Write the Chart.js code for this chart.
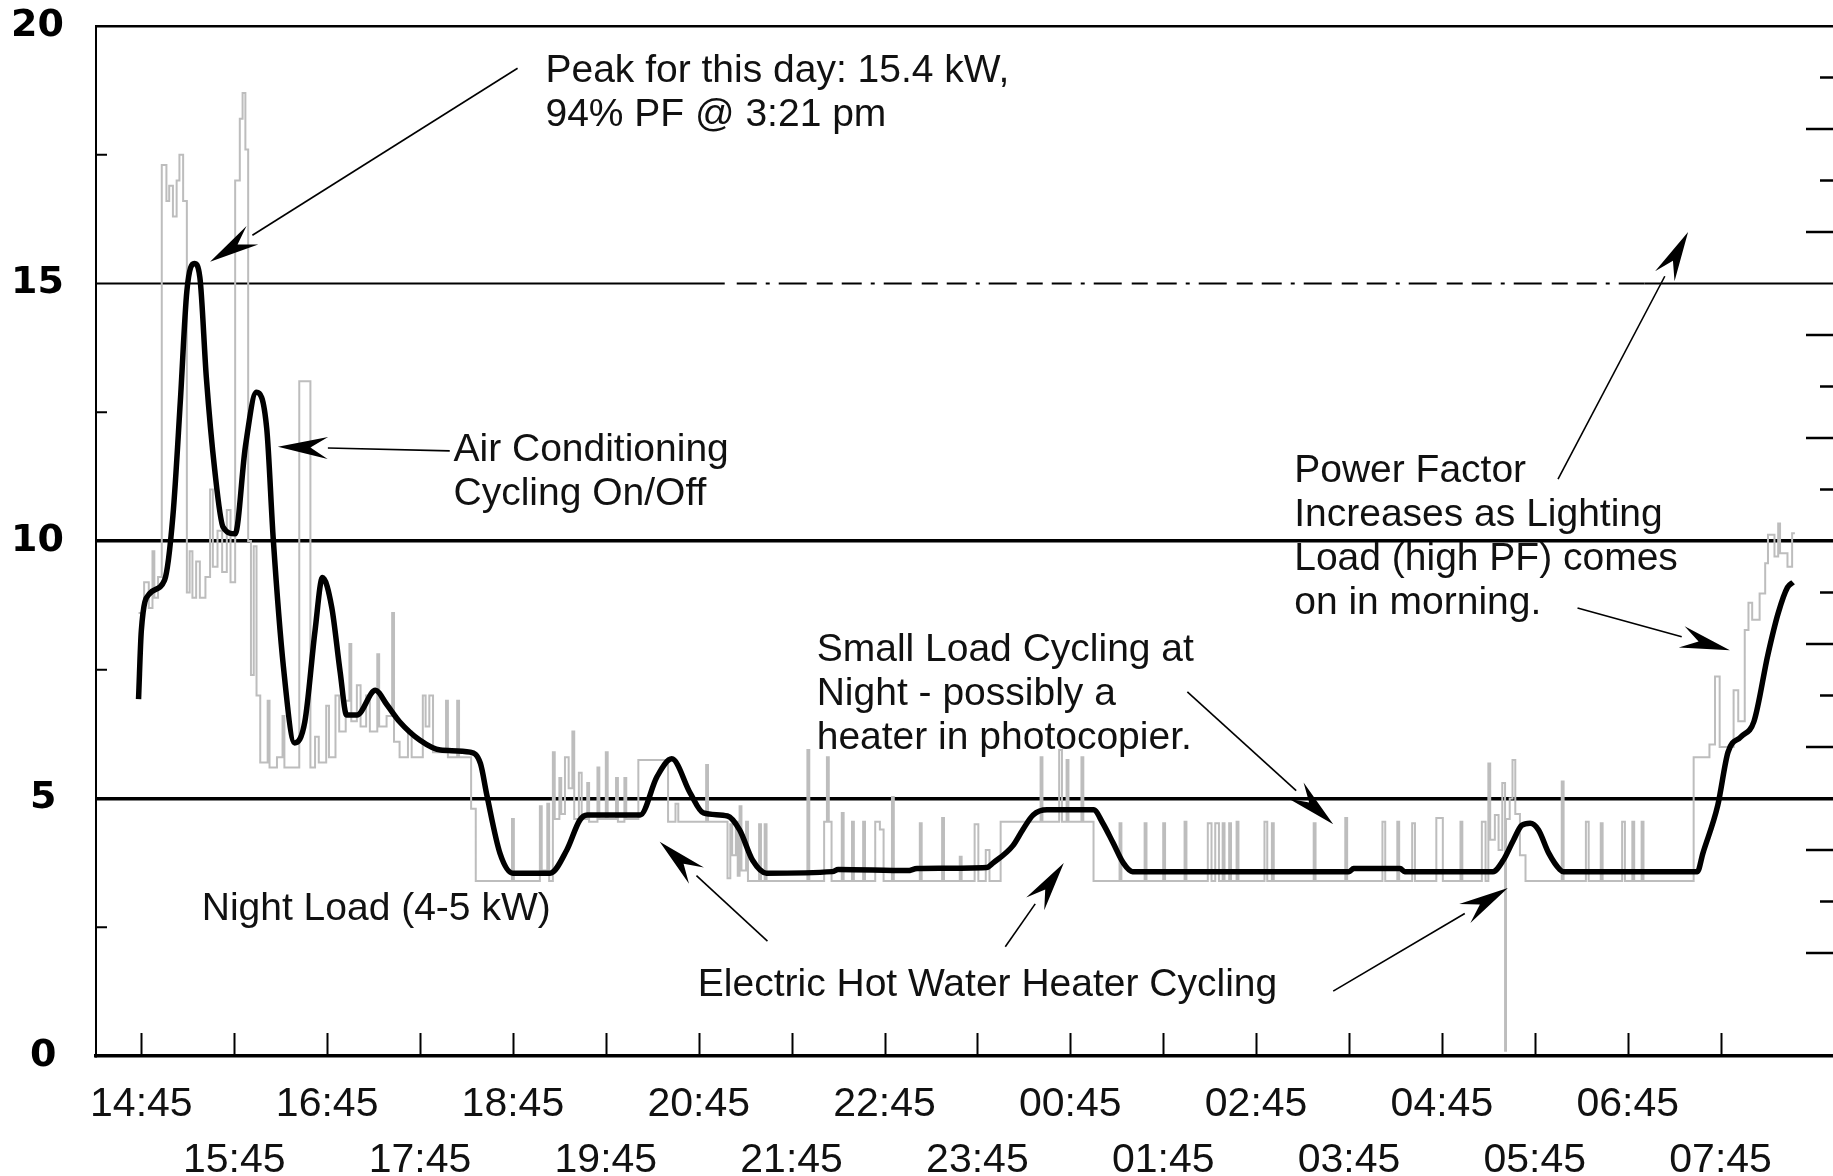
<!DOCTYPE html>
<html>
<head>
<meta charset="utf-8">
<script src="https://cdn.jsdelivr.net/npm/chart.js@4.4.0/dist/chart.umd.min.js"></script>
<style>
  html, body { margin: 0; padding: 0; background: #fff; }
  #wrap { width: 1833px; height: 1176px; }
</style>
</head>
<body>
<div id="wrap"><canvas id="myChart" width="1833" height="1176"></canvas></div>
<script>
// x values are clock hours counted from the first afternoon (24+ = next morning)
const tickHours = [14.75, 15.75, 16.75, 17.75, 18.75, 19.75, 20.75, 21.75, 22.75,
  23.75, 24.75, 25.75, 26.75, 27.75, 28.75, 29.75, 30.75, 31.75];
const tickLabels = ["14:45", "15:45", "16:45", "17:45", "18:45", "19:45", "20:45", "21:45", "22:45",
  "23:45", "00:45", "01:45", "02:45", "03:45", "04:45", "05:45", "06:45", "07:45"];

// raw 1-minute kW readings (grey, stepped)
const rawT = [14.72, 14.78, 14.83, 14.87, 14.89, 14.93, 14.97, 15.02, 15.05, 15.09, 15.13, 15.16, 15.20,
  15.24, 15.27, 15.30, 15.34, 15.38, 15.44, 15.49, 15.52, 15.57, 15.62, 15.67, 15.71, 15.76, 15.81, 15.84,
  15.87, 15.90, 15.93, 15.96, 15.99, 16.03, 16.11, 16.13, 16.21, 16.27, 16.29, 16.45, 16.57, 16.62, 16.66,
  16.74, 16.77, 16.84, 16.88, 16.95, 16.99, 17.01, 17.07, 17.11, 17.17, 17.21, 17.29, 17.31, 17.39, 17.45,
  17.47, 17.53, 17.62, 17.66, 17.78, 17.81, 17.85, 17.89, 18.03, 18.05, 18.15, 18.17, 18.30, 18.35, 18.74,
  18.76, 19.04, 19.06, 19.12, 19.14, 19.18, 19.20, 19.25, 19.27, 19.31, 19.35, 19.39, 19.41, 19.46, 19.49,
  19.55, 19.57, 19.66, 19.68, 19.75, 19.77, 19.86, 19.88, 19.95, 19.97, 20.10, 20.42, 20.50, 20.53, 20.83,
  20.85, 21.06, 21.09, 21.11, 21.15, 21.17, 21.19, 21.21, 21.26, 21.28, 21.40, 21.42, 21.46, 21.48, 21.92,
  21.94, 22.10, 22.13, 22.15, 22.18, 22.29, 22.31, 22.40, 22.42, 22.52, 22.54, 22.65, 22.70, 22.74, 22.83,
  22.85, 23.13, 23.15, 23.37, 23.39, 23.56, 23.58, 23.72, 23.76, 23.84, 23.88, 24.00, 24.43, 24.45, 24.63,
  24.66, 24.71, 24.73, 24.87, 24.89, 25.00, 25.28, 25.30, 25.55, 25.57, 25.75, 25.77, 25.98, 26.00, 26.23,
  26.27, 26.31, 26.35, 26.39, 26.41, 26.46, 26.48, 26.54, 26.56, 26.84, 26.87, 26.92, 26.94, 27.37, 27.39,
  27.71, 27.73, 28.11, 28.14, 28.27, 28.29, 28.43, 28.46, 28.69, 28.76, 28.95, 28.97, 29.18, 29.22, 29.25,
  29.27, 29.32, 29.36, 29.40, 29.43, 29.44, 29.48, 29.51, 29.54, 29.59, 29.65, 30.04, 30.06, 30.30, 30.33,
  30.46, 30.48, 30.69, 30.72, 30.80, 30.82, 30.90, 30.92, 31.46, 31.63, 31.69, 31.74, 31.89, 31.94, 32.01,
  32.05, 32.09, 32.17, 32.23, 32.26, 32.33, 32.37, 32.39, 32.47, 32.52, 32.55];
const rawKW = [8.6, 9.2, 8.7, 9.8, 8.9, 9.3, 17.3, 16.6, 16.9, 16.3, 17.0, 17.5, 16.6,
  9.0, 9.8, 8.9, 9.6, 8.9, 9.3, 11.0, 9.5, 10.2, 9.4, 10.6, 9.2, 17.0, 18.2, 18.7,
  17.6, 10.0, 7.4, 9.9, 7.0, 5.7, 6.9, 5.6, 5.8, 6.6, 5.6, 13.1, 5.6, 6.2, 5.7,
  6.8, 5.8, 7.0, 6.3, 6.9, 8.0, 6.5, 7.2, 6.4, 7.0, 6.3, 7.8, 6.4, 6.6, 8.6,
  6.1, 5.8, 6.3, 5.8, 7.0, 6.4, 7.0, 5.9, 6.9, 5.8, 6.9, 5.8, 4.8, 3.4, 4.6,
  3.4, 4.85, 3.6, 4.9, 3.4, 5.9, 4.6, 5.4, 4.7, 5.8, 5.2, 6.3, 4.6, 5.5, 4.6,
  5.3, 4.55, 5.6, 4.6, 5.9, 4.6, 5.4, 4.55, 5.4, 4.6, 5.75, 4.55, 4.9, 4.55, 5.65,
  4.55, 3.45, 4.5, 3.9, 4.55, 3.5, 4.85, 3.6, 4.55, 3.4, 4.5, 3.4, 4.5, 3.4, 5.94,
  3.4, 4.55, 5.8, 4.55, 3.4, 4.72, 3.4, 4.55, 3.4, 4.55, 3.4, 4.55, 4.4, 3.4, 5.03,
  3.4, 4.52, 3.4, 4.62, 3.4, 3.87, 3.4, 4.5, 3.4, 4.0, 3.4, 4.55, 5.8, 4.55, 5.94,
  4.55, 5.75, 4.55, 5.8, 4.55, 3.4, 4.52, 3.4, 4.52, 3.4, 4.52, 3.4, 4.55, 3.4, 4.52,
  3.4, 4.52, 3.4, 4.52, 3.4, 4.52, 3.4, 4.55, 3.4, 4.55, 3.4, 4.52, 3.4, 4.52, 3.4,
  4.62, 3.4, 4.55, 3.4, 4.55, 3.4, 4.52, 3.4, 4.62, 3.4, 4.55, 3.4, 4.55, 3.4, 5.68,
  4.2, 4.68, 4.0, 5.3, 0.1, 4.6, 5.0, 5.75, 4.7, 3.9, 3.4, 5.33, 3.4, 4.55, 3.4,
  4.52, 3.4, 4.55, 3.4, 4.55, 3.4, 4.55, 3.4, 5.8, 6.05, 7.37, 6.0, 7.1, 6.5, 8.27,
  8.8, 8.47, 8.98, 9.57, 10.12, 9.7, 10.34, 9.76, 9.5, 10.15, 10.15];

// smoothed demand (black)
const avgT = [14.72, 14.75, 14.84, 15.00, 15.09, 15.17, 15.24, 15.32, 15.38, 15.45, 15.54, 15.63, 15.76,
  15.87, 15.99, 16.10, 16.17, 16.28, 16.40, 16.51, 16.62, 16.70, 16.80, 16.89, 16.96, 17.07, 17.27, 17.39,
  17.53, 17.75, 17.97, 18.29, 18.40, 18.47, 18.61, 18.75, 19.15, 19.33, 19.47, 19.55, 20.12, 20.30, 20.46,
  20.66, 20.80, 21.06, 21.19, 21.33, 21.48, 22.19, 22.25, 23.00, 23.10, 23.85, 23.92, 24.13, 24.24, 24.35,
  24.50, 25.00, 25.10, 25.21, 25.32, 25.42, 27.75, 27.80, 28.30, 28.35, 29.30, 29.41, 29.52, 29.61, 29.70,
  29.79, 29.90, 30.02, 30.06, 31.50, 31.56, 31.72, 31.83, 31.97, 32.11, 32.26, 32.37, 32.47, 32.53];
const avgKW = [6.93, 8.26, 8.98, 9.24, 10.49, 12.72, 14.85, 15.39, 15.12, 13.17, 11.38, 10.27, 10.14,
  11.83, 12.89, 12.18, 10.04, 7.55, 6.08, 6.49, 8.26, 9.29, 8.71, 7.46, 6.62, 6.62, 7.10, 6.83,
  6.49, 6.13, 5.94, 5.90, 5.68, 5.06, 3.94, 3.55, 3.55, 4.00, 4.58, 4.68, 4.68, 5.42, 5.77,
  5.10, 4.72, 4.66, 4.39, 3.80, 3.55, 3.58, 3.62, 3.60, 3.64, 3.66, 3.75, 4.08, 4.40, 4.68,
  4.78, 4.78, 4.52, 4.14, 3.75, 3.58, 3.58, 3.64, 3.64, 3.58, 3.58, 3.80, 4.19, 4.48, 4.52,
  4.39, 3.94, 3.62, 3.58, 3.58, 3.94, 4.87, 5.90, 6.20, 6.50, 7.80, 8.60, 9.10, 9.20];

// callouts, placed in (hour, kW)
const notes = [
  { lines: ["Peak for this day: 15.4 kW,", "94% PF @ 3:21 pm"], t: 19.10, kw: 19.12 },
  { lines: ["Air Conditioning", "Cycling On/Off"], t: 18.11, kw: 11.77 },
  { lines: ["Power Factor", "Increases as Lighting", "Load (high PF) comes", "on in morning."], t: 27.16, kw: 11.36 },
  { lines: ["Small Load Cycling at", "Night - possibly a", "heater in photocopier."], t: 22.02, kw: 7.88 },
  { lines: ["Night Load (4-5 kW)"], t: 15.40, kw: 2.84 },
  { lines: ["Electric Hot Water Heater Cycling"], t: 20.74, kw: 1.37 }
];
const arrows = [
  [18.80, 19.18, 15.49, 15.42],
  [18.07, 11.75, 16.22, 11.83],
  [30.00, 11.20, 31.40, 16.00],
  [30.21, 8.70, 31.85, 7.88],
  [26.01, 7.07, 27.58, 4.50],
  [21.49, 2.23, 20.33, 4.16],
  [24.05, 2.12, 24.68, 3.75],
  [27.58, 1.26, 29.46, 3.26]
];

function drawArrow(ctx, x0, y0, x1, y1) {
  const a = Math.atan2(y1 - y0, x1 - x0);
  const L = 50, W = 11;
  const bx = x1 - L * Math.cos(a), by = y1 - L * Math.sin(a);
  ctx.beginPath();
  ctx.moveTo(x0, y0);
  ctx.lineTo(bx, by);
  ctx.stroke();
  ctx.beginPath();
  ctx.moveTo(x1, y1);
  ctx.lineTo(bx + W * Math.sin(a), by - W * Math.cos(a));
  ctx.lineTo(bx + 0.35 * L * Math.cos(a), by + 0.35 * L * Math.sin(a));
  ctx.lineTo(bx - W * Math.sin(a), by + W * Math.cos(a));
  ctx.closePath();
  ctx.fill();
}

const overlay = {
  id: "overlay",
  beforeDatasetsDraw(chart) {
    const { ctx, chartArea: a, scales: { x, y } } = chart;
    const y15 = y.getPixelForValue(15);
    const xa = x.getPixelForValue(21.03), xb = x.getPixelForValue(30.93);
    ctx.save();
    ctx.strokeStyle = "#000";
    ctx.lineWidth = 2;
    ctx.beginPath();
    ctx.moveTo(a.left, y15); ctx.lineTo(xa, y15);
    ctx.moveTo(xb, y15); ctx.lineTo(a.right, y15);
    ctx.stroke();
    ctx.setLineDash([20, 9, 4, 9, 28, 10, 16, 9]);
    ctx.beginPath();
    ctx.moveTo(xa + 12, y15); ctx.lineTo(xb, y15);
    ctx.stroke();
    ctx.restore();
  },
  afterDatasetsDraw(chart) {
    const { ctx, chartArea: a, scales: { x, y } } = chart;
    ctx.save();
    ctx.strokeStyle = "#000";
    ctx.fillStyle = "#000";
    // tick marks on the time axis, pointing up
    ctx.lineWidth = 2;
    tickHours.forEach(h => {
      const px = Math.round(x.getPixelForValue(h)) + 0.5;
      ctx.beginPath(); ctx.moveTo(px, a.bottom); ctx.lineTo(px, a.bottom - 23); ctx.stroke();
    });
    // minor ticks on the kW axis
    [2.5, 7.5, 12.5, 17.5].forEach(v => {
      const py = y.getPixelForValue(v);
      ctx.beginPath(); ctx.moveTo(a.left, py); ctx.lineTo(a.left + 11, py); ctx.stroke();
    });
    // power factor axis ticks at the right edge
    ctx.lineWidth = 2.5;
    for (let v = 2; v <= 19; v++) {
      if (v % 5 === 0) continue;
      const py = y.getPixelForValue(v);
      const len = v % 2 === 0 ? 27 : 13;
      ctx.beginPath(); ctx.moveTo(a.right, py); ctx.lineTo(a.right - len, py); ctx.stroke();
    }
    // callout arrows
    ctx.lineWidth = 1.6;
    arrows.forEach(r => drawArrow(ctx, x.getPixelForValue(r[0]), y.getPixelForValue(r[1]),
      x.getPixelForValue(r[2]), y.getPixelForValue(r[3])));
    // callout text
    ctx.fillStyle = "#111";
    ctx.font = '39px "Liberation Sans", Arial, sans-serif';
    ctx.textBaseline = "middle";
    ctx.textAlign = "left";
    notes.forEach(n => {
      const px = x.getPixelForValue(n.t), py = y.getPixelForValue(n.kw);
      n.lines.forEach((s, i) => ctx.fillText(s, px, py + i * 44));
    });
    ctx.restore();
  }
};

document.addEventListener("DOMContentLoaded", function () {
  const ctx = document.getElementById("myChart");
  new Chart(ctx, {
    type: "line",
    data: {
      datasets: [
        {
          data: avgT.map((t, i) => ({ x: t, y: avgKW[i] })),
          borderColor: "#000",
          borderWidth: 5.5,
          pointRadius: 0,
          cubicInterpolationMode: "monotone",
          order: 0
        },
        {
          data: rawT.map((t, i) => ({ x: t, y: rawKW[i] })),
          borderColor: "#bdbdbd",
          borderWidth: 2,
          pointRadius: 0,
          stepped: "before",
          order: 1
        }
      ]
    },
    options: {
      responsive: false,
      animation: false,
      devicePixelRatio: 1,
      layout: { padding: { top: 26, right: 0, left: 0, bottom: 0 } },
      plugins: { legend: { display: false }, tooltip: { enabled: false } },
      scales: {
        x: {
          type: "linear",
          min: 14.262,
          max: 32.96,
          afterBuildTicks: s => { s.ticks = tickHours.map(v => ({ value: v })); },
          afterFit: s => { s.height = 120; },
          grid: { color: "rgba(0,0,0,0)", drawTicks: false },
          border: { color: "#000", width: 3.5 },
          ticks: {
            autoSkip: false,
            maxRotation: 0,
            padding: 21,
            color: "#111",
            font: { family: "Liberation Sans", size: 41, lineHeight: 1.36 },
            callback: (v, i) => i % 2 === 0 ? [tickLabels[i], ""] : ["", tickLabels[i]]
          }
        },
        y: {
          min: 0,
          max: 20,
          afterFit: s => { s.width = 96; },
          grid: {
            drawTicks: true,
            tickLength: 29,
            tickColor: "rgba(0,0,0,0)",
            color: c => [5, 10, 20].includes(c.tick.value) ? "#000" : "rgba(0,0,0,0)",
            lineWidth: c => c.tick.value === 20 ? 2.5 : 3.5
          },
          border: { color: "#000", width: 2 },
          ticks: {
            stepSize: 5,
            padding: 3,
            color: "#000",
            font: { family: "DejaVu Sans", weight: "bold", size: 38 },
            callback: v => v < 10 ? v + "\u2009" : String(v)
          }
        }
      }
    },
    plugins: [overlay]
  });
});
</script>
</body>
</html>
